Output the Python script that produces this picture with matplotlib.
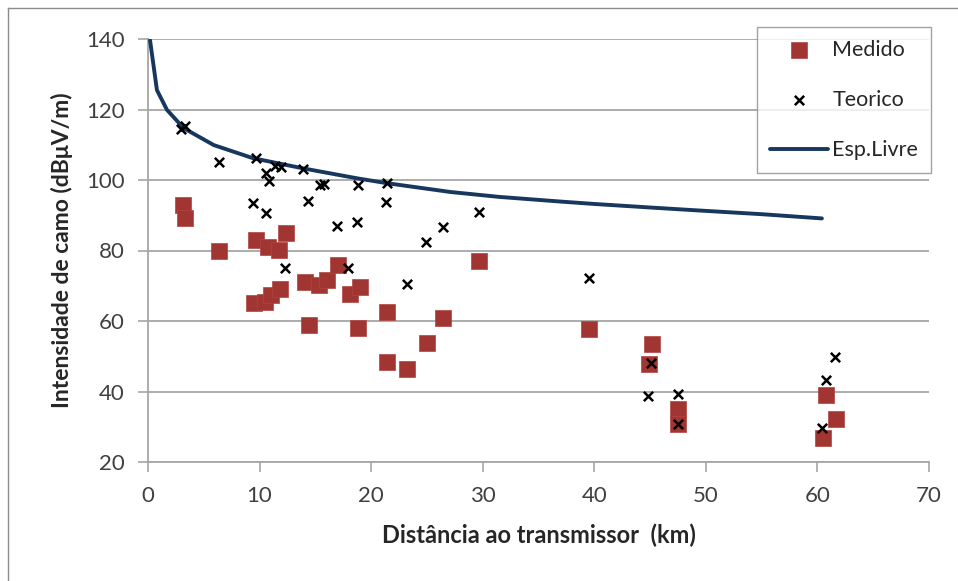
import matplotlib
matplotlib.use("Agg")
import matplotlib.pyplot as plt
from matplotlib.lines import Line2D

plt.rcParams['font.family'] = ['Lato', 'DejaVu Sans']

# Medido (measured)
med_x = [3.1, 3.3, 6.4, 9.7, 10.8, 11.7, 12.4, 9.5, 10.5, 11.0, 11.8, 14.1, 15.3, 16.0, 17.0,
         14.4, 18.1, 19.0, 18.8, 21.4, 21.4, 23.2, 25.0, 26.4, 29.7, 39.5, 45.2, 44.9, 47.5,
         47.5, 60.8, 61.7, 60.5]
med_y = [92.9, 89.1, 79.8, 83.0, 81.1, 80.1, 85.1, 65.2, 65.3, 67.5, 69.0, 71.2, 70.2, 71.5, 75.9,
         58.9, 67.6, 69.7, 57.9, 62.6, 48.3, 46.4, 53.9, 60.9, 77.0, 57.7, 53.5, 47.8, 34.9,
         30.8, 39.0, 32.2, 26.9]

# Teorico (theoretical)
teo_x = [3.0, 3.3, 6.4, 9.7, 10.6, 10.85, 11.4, 11.9, 13.9, 15.4, 15.8, 18.8, 21.4, 9.4, 10.6,
         14.3, 16.9, 18.7, 21.3, 12.3, 17.95, 23.2, 24.9, 26.4, 29.7, 39.5, 45.1, 44.8, 47.5,
         47.5, 61.6, 60.75, 60.4]
teo_y = [114.4, 115.4, 105.0, 106.2, 101.9, 99.8, 104.0, 103.7, 103.0, 98.6, 98.9, 98.6, 99.2, 93.6, 90.7,
         94.1, 87.0, 88.2, 93.8, 75.1, 75.1, 70.4, 82.3, 86.6, 90.8, 72.1, 48.0, 38.7, 39.2,
         30.8, 49.9, 43.3, 29.6]

# Esp.Livre (free space)
esp_x = [0.18, 0.8, 1.7, 3.2, 5.9, 9.4, 13.9, 18.7, 21.4, 27.1, 31.5, 36.9, 40.0, 45.0, 48.6, 55.0, 60.4]
esp_y = [139.7, 125.5, 119.9, 114.7, 109.9, 106.2, 103.3, 100.5, 99.1, 96.6, 95.2, 93.9, 93.2, 92.2, 91.5, 90.3, 89.1]

x_ticks = [0, 10, 20, 30, 40, 50, 60, 70]
y_ticks = [20, 40, 60, 80, 100, 120, 140]

W, H = 958, 581
fig = plt.figure(figsize=(W / 100, H / 100), dpi=100)
ax = fig.add_axes([148 / W, 1 - 462 / H, (929 - 148) / W, (462 - 39) / H])

# chart frame (top and left edges visible)
fig.add_artist(Line2D([8 / W, 1.0], [1 - 8 / H, 1 - 8 / H], color='#8C8C8C', lw=1.0,
                      transform=fig.transFigure))
fig.add_artist(Line2D([8 / W, 8 / W], [0.0, 1 - 8 / H], color='#8C8C8C', lw=1.0,
                      transform=fig.transFigure))

ax.plot(esp_x, esp_y, color='#17375E', lw=2.8, zorder=3, label='Esp.Livre', solid_capstyle='round')
ax.scatter(med_x, med_y, marker='s', s=120, color='#A13532', edgecolors='#B04440', linewidths=0.5,
           zorder=4, label='Medido')
ax.scatter(teo_x, teo_y, marker='x', s=45, color='black', linewidths=1.8, zorder=5, label='Teorico')

ax.set_xlim(0, 70)
ax.set_ylim(20, 140)
ax.set_xticks(x_ticks)
ax.set_yticks(y_ticks)
ax.yaxis.grid(True, color='#A6A6A6', lw=1.3, zorder=0)
ax.set_axisbelow(True)

for s in ['top', 'right']:
    ax.spines[s].set_visible(False)
for s in ['left', 'bottom']:
    ax.spines[s].set_color('#A6A6A6')
    ax.spines[s].set_linewidth(1.3)

ax.tick_params(axis='both', colors='#A6A6A6', labelcolor='#404040', labelsize=16,
               length=7, width=1.2, pad=10)

ax.set_xlabel('Distância ao transmissor  (km)', fontsize=17, fontweight='bold', color='#262626',
              labelpad=13)
ax.set_ylabel('Intensidade de camo (dBμV/m)', fontsize=16.5, fontweight='bold', color='#262626',
              labelpad=9)

handles, labels = ax.get_legend_handles_labels()
order = [labels.index('Medido'), labels.index('Teorico'), labels.index('Esp.Livre')]
leg = ax.legend([handles[i] for i in order], [labels[i] for i in order],
                loc='upper left',
                bbox_to_anchor=((757 - 148) / (929 - 148), 1 + (39 - 27) / (462 - 39)),
                fontsize=15.5, frameon=True, fancybox=False, labelspacing=1.4,
                handlelength=2.7, borderpad=0.6, handletextpad=0.2, borderaxespad=0)
leg.get_frame().set_edgecolor('#8C8C8C')
leg.get_frame().set_linewidth(1.0)
for t in leg.get_texts():
    t.set_color('#262626')

fig.savefig('out.png', dpi=100)
